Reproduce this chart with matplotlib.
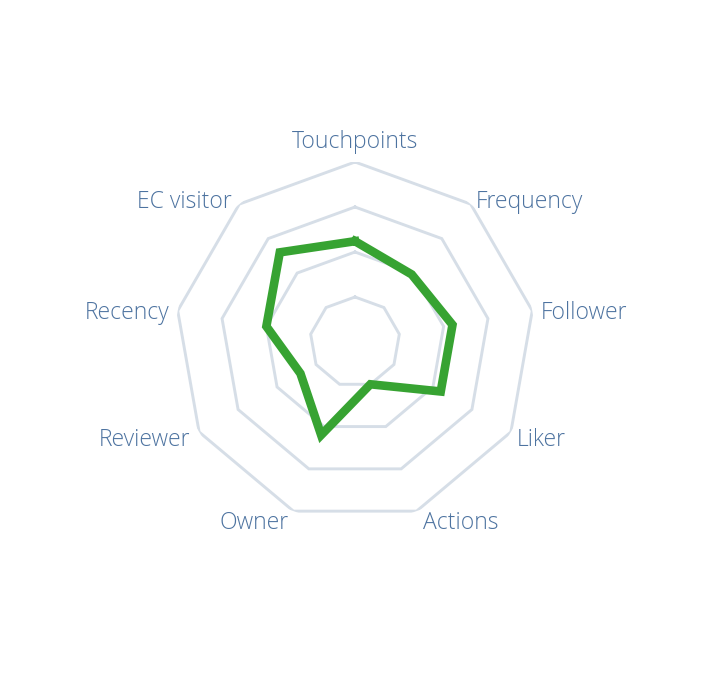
import numpy as np
import matplotlib
matplotlib.use("Agg")
import matplotlib.pyplot as plt
from matplotlib import font_manager

# ---- data ----
categories = ["Touchpoints", "Frequency", "Follower", "Liker", "Actions",
              "Owner", "Reviewer", "Recency", "EC visitor"]
values = [0.56, 0.49, 0.55, 0.55, 0.25, 0.55, 0.35, 0.50, 0.65]
ring_levels = [0.25, 0.5, 0.75, 1.0]

# ---- style ----
W, H, DPI = 708, 686, 100
cx, cy, R = 355, 342, 180  # pixel centre / radius
grid_color = "#d6dee7"
line_color = "#37a332"
label_color = "#4d73a0"

# label offsets in pixels (dx, dy up), and horizontal alignment
label_offsets = [(0, 14.5), (5.5, -3.5), (8, -8.3), (6, -13.5), (6, -18),
                 (-4.5, -18), (-8.5, -13.5), (-8.5, -8.3), (-7.5, -3.5)]
label_ha = ["center", "left", "left", "left", "left",
            "right", "right", "right", "right"]

names = {f.name for f in font_manager.fontManager.ttflist}
family = "Open Sans" if "Open Sans" in names else "DejaVu Sans"

fig = plt.figure(figsize=(W / DPI, H / DPI), dpi=DPI)
fig.patch.set_facecolor("white")
ax = fig.add_axes([(cx - R) / W, (H - cy - R) / H, 2 * R / W, 2 * R / H],
                  projection="polar")
ax.set_theta_zero_location("N")
ax.set_theta_direction(-1)
ax.set_ylim(0, 1)
ax.grid(False)
ax.set_xticks([])
ax.set_yticks([])
ax.spines["polar"].set_visible(False)
ax.patch.set_alpha(0)

n = len(categories)
theta = np.arange(n) * 2 * np.pi / n
theta_c = np.append(theta, theta[0])

for lv in ring_levels:
    ax.plot(theta_c, [lv] * (n + 1), color=grid_color, lw=2.1,
            solid_joinstyle="miter", zorder=1)

vals_c = list(values) + [values[0]]
ax.plot(theta_c, vals_c, color=line_color, lw=6.2,
        solid_joinstyle="miter", zorder=3)

for t, lab, off, ha in zip(theta, categories, label_offsets, label_ha):
    ax.annotate(lab, xy=(t, 1.0), xycoords="data",
                xytext=(off[0] * 72 / DPI, off[1] * 72 / DPI),
                textcoords="offset points", ha=ha, va="baseline",
                fontsize=16.5, color=label_color, family=family,
                fontweight="light", annotation_clip=False)

fig.savefig("out.png", dpi=DPI, facecolor="white")
